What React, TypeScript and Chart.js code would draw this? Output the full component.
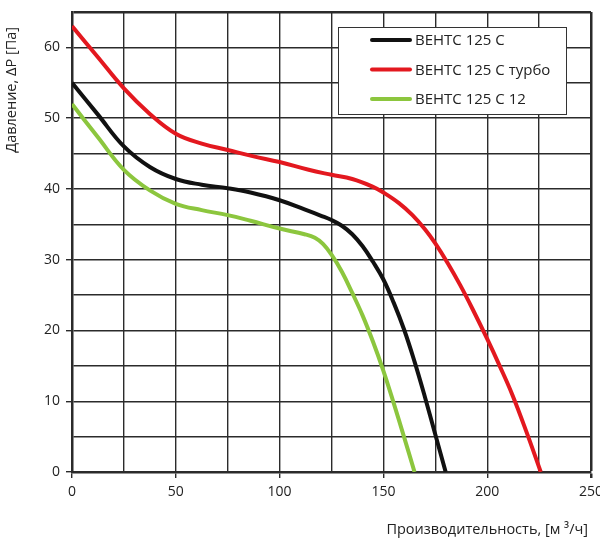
import React, { useEffect, useRef } from "react";
import { Chart, registerables } from "chart.js";

Chart.register(...registerables);

// Расход, м³/ч и давление, Па для каждой модели
const flowStd = [0, 12.5, 25, 37.5, 50, 62.5, 75, 86, 100, 112, 120, 125, 130, 135, 140, 145, 150, 155, 160, 165, 170, 175, 180];
const pressureStd = [55, 50.5, 46, 43.1, 41.4, 40.6, 40.1, 39.5, 38.4, 37.1, 36.2, 35.6, 34.8, 33.6, 31.9, 29.7, 27.2, 23.9, 20.1, 15.6, 10.6, 5.3, 0];

const flowTurbo = [0, 12.5, 25, 37.5, 50, 62.5, 75, 87.5, 100, 114, 125, 135, 145, 150, 157.5, 164, 170, 175, 181, 187, 193, 200, 206, 212, 219, 225.8];
const pressureTurbo = [63, 58.6, 54.2, 50.6, 47.8, 46.4, 45.5, 44.6, 43.8, 42.7, 42, 41.4, 40.3, 39.5, 38, 36.3, 34.3, 32.3, 29.5, 26.4, 23, 18.8, 15, 11, 5.6, 0];

const flow12 = [0, 12.5, 25, 37.5, 50, 62.5, 75, 86, 100, 112, 117, 121, 125, 130, 135, 140, 145, 150, 155, 160, 165];
const pressure12 = [52, 47.3, 42.7, 39.8, 37.9, 37, 36.3, 35.5, 34.4, 33.6, 33.1, 32.2, 30.7, 28.3, 25.3, 22.1, 18.4, 14.3, 9.7, 4.9, 0];

const seriesNames = ["ВЕНТС 125 С", "ВЕНТС 125 С турбо", "ВЕНТС 125 С 12"];
const seriesColors = ["#111111", "#e3181f", "#8cc63e"];

const xTitle = "Производительность, [м ³/ч]";
const yTitle = "Давление, ΔP [Па]";

const FONT = "'Open Sans', 'Noto Sans', sans-serif";
const GRID = "#2b2b2b";

const toPoints = (xs: number[], ys: number[]) => xs.map((x, i) => ({ x, y: ys[i] }));

// легенда внутри поля графика и подписи осей
const overlayPlugin = {
  id: "overlay",
  afterDraw(chart: Chart) {
    const { ctx } = chart;
    ctx.save();

    // подписи осей
    ctx.fillStyle = "#222";
    ctx.font = `14.5px ${FONT}`;
    ctx.textBaseline = "middle";
    ctx.textAlign = "right";
    ctx.fillText(xTitle, 588, 530);

    ctx.save();
    ctx.translate(12, 27);
    ctx.rotate(-Math.PI / 2);
    ctx.fillText(yTitle, 0, 0);
    ctx.restore();

    // рамка легенды
    const bx = 338, by = 27, bw = 228, bh = 87;
    ctx.fillStyle = "#fff";
    ctx.fillRect(bx, by, bw, bh);
    ctx.strokeStyle = "#333";
    ctx.lineWidth = 1;
    ctx.strokeRect(bx + 0.5, by + 0.5, bw, bh);

    ctx.font = `15px ${FONT}`;
    chart.data.datasets.forEach((ds, i) => {
      const y = 40 + i * 29.5;
      ctx.strokeStyle = ds.borderColor as string;
      ctx.lineWidth = 4;
      ctx.lineCap = "round";
      ctx.beginPath();
      ctx.moveTo(372, y);
      ctx.lineTo(410, y);
      ctx.stroke();
      ctx.fillStyle = "#222";
      ctx.textAlign = "left";
      ctx.fillText(ds.label as string, 415, y + 1);
    });

    ctx.restore();
  },
};

const App: React.FC = () => {
  const canvasRef = useRef<HTMLCanvasElement>(null);
  const chartRef = useRef<Chart | null>(null);

  useEffect(() => {
    const ctx = canvasRef.current?.getContext("2d");
    if (!ctx) return;

    if (chartRef.current) {
      chartRef.current.destroy();
    }

    const lines = [
      toPoints(flowStd, pressureStd),
      toPoints(flowTurbo, pressureTurbo),
      toPoints(flow12, pressure12),
    ];

    chartRef.current = new Chart(ctx, {
      type: "line",
      data: {
        datasets: lines.map((pts, i) => ({
          label: seriesNames[i],
          data: pts,
          borderColor: seriesColors[i],
          backgroundColor: seriesColors[i],
          borderWidth: 4,
          pointRadius: 0,
          tension: 0.4,
          fill: false,
        })),
      },
      options: {
        responsive: false,
        animation: false,
        layout: { padding: { top: 12, right: 9, left: 0, bottom: 0 } },
        plugins: {
          legend: { display: false },
          tooltip: { enabled: false },
        },
        scales: {
          x: {
            type: "linear",
            min: 0,
            max: 250,
            ticks: {
              stepSize: 25,
              autoSkip: false,
              maxRotation: 0,
              padding: 6,
              color: "#222",
              font: { family: FONT, size: 14 },
              callback: (v) => (Number(v) % 50 === 0 ? String(v) : ""),
            },
            grid: {
              color: GRID,
              lineWidth: (c) => (c.tick && c.tick.value === 250 ? 2.5 : 1.4),
              tickLength: 6,
              tickColor: (c) => (c.tick && c.tick.value % 50 === 0 ? GRID : "transparent"),
            },
            border: { color: GRID, width: 2.5 },
            afterFit: (s) => {
              s.height = 81;
              s.paddingRight = 0;
              s.paddingLeft = 0;
            },
          },
          y: {
            type: "linear",
            min: 0,
            max: 65,
            ticks: {
              stepSize: 5,
              autoSkip: false,
              padding: 6,
              color: "#222",
              font: { family: FONT, size: 14 },
              callback: (v) => (Number(v) % 10 === 0 ? String(v) : ""),
            },
            grid: {
              color: GRID,
              lineWidth: (c) => (c.tick && c.tick.value === 65 ? 2.5 : 1.4),
              tickLength: 6,
              tickColor: (c) => (c.tick && c.tick.value % 10 === 0 ? GRID : "transparent"),
            },
            border: { color: GRID, width: 2.5 },
            afterFit: (s) => {
              s.width = 72;
              s.paddingTop = 0;
              s.paddingBottom = 0;
            },
          },
        },
      },
      plugins: [overlayPlugin],
    });

    return () => {
      if (chartRef.current) {
        chartRef.current.destroy();
        chartRef.current = null;
      }
    };
  }, []);

  return (
    <div style={{ position: "absolute", left: 0, top: 0, width: 600, height: 553, background: "#fff" }}>
      <canvas ref={canvasRef} width={600} height={553} />
    </div>
  );
};

export default App;
